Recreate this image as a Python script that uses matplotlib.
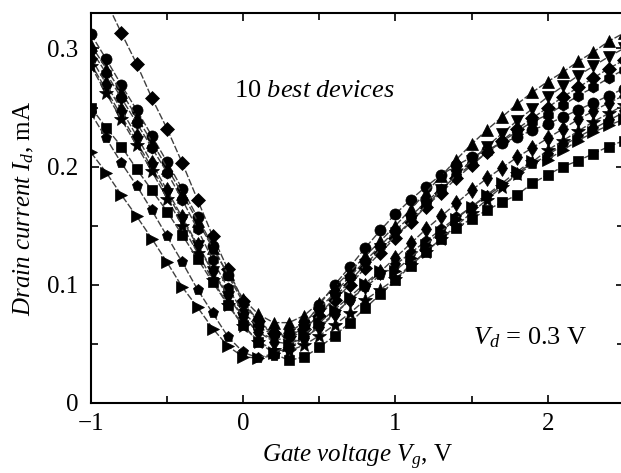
import matplotlib
matplotlib.use("Agg")
import matplotlib.pyplot as plt
from matplotlib.ticker import MultipleLocator

plt.rcParams['font.family'] = ['Liberation Serif', 'DejaVu Serif']
plt.rcParams['mathtext.fontset'] = 'custom'
plt.rcParams['mathtext.rm'] = 'Liberation Serif'
plt.rcParams['mathtext.it'] = 'Liberation Serif:italic'

# gate voltage grid, V
vg = [-1.0, -0.9, -0.8, -0.7, -0.6, -0.5, -0.4, -0.3, -0.2, -0.1,
      0.0, 0.1, 0.2, 0.3, 0.4, 0.5, 0.6, 0.7, 0.8, 0.9,
      1.0, 1.1, 1.2, 1.3, 1.4, 1.5, 1.6, 1.7, 1.8, 1.9,
      2.0, 2.1, 2.2, 2.3, 2.4, 2.5]

# drain current of the 10 devices, mA
dev_D = [0.366, 0.340, 0.313, 0.287, 0.258, 0.232, 0.203, 0.172, 0.141, 0.113,
         0.086, 0.069, 0.059, 0.057, 0.063, 0.074, 0.087, 0.100, 0.114, 0.127,
         0.140, 0.153, 0.166, 0.178, 0.190, 0.201, 0.212, 0.222, 0.232, 0.241,
         0.250, 0.259, 0.267, 0.275, 0.283, 0.290]
dev_o = [0.312, 0.291, 0.269, 0.248, 0.226, 0.204, 0.181, 0.157, 0.133, 0.108,
         0.085, 0.068, 0.058, 0.056, 0.066, 0.083, 0.100, 0.115, 0.131, 0.146,
         0.160, 0.172, 0.183, 0.193, 0.201, 0.208, 0.214, 0.220, 0.225, 0.231,
         0.236, 0.242, 0.248, 0.254, 0.260, 0.266]
dev_up = [0.303, 0.283, 0.263, 0.242, 0.221, 0.199, 0.177, 0.154, 0.131, 0.109,
          0.088, 0.075, 0.068, 0.068, 0.074, 0.085, 0.098, 0.111, 0.124, 0.137,
          0.150, 0.164, 0.178, 0.192, 0.206, 0.219, 0.231, 0.242, 0.253, 0.263,
          0.272, 0.280, 0.289, 0.297, 0.306, 0.313]
dev_h = [0.299, 0.279, 0.258, 0.237, 0.216, 0.195, 0.172, 0.147, 0.121, 0.097,
         0.077, 0.064, 0.058, 0.060, 0.068, 0.080, 0.093, 0.107, 0.120, 0.133,
         0.146, 0.158, 0.170, 0.181, 0.192, 0.202, 0.212, 0.221, 0.230, 0.238,
         0.244, 0.252, 0.260, 0.267, 0.275, 0.282]
dev_dn = [0.287, 0.265, 0.243, 0.221, 0.199, 0.177, 0.155, 0.133, 0.111, 0.090,
          0.072, 0.060, 0.054, 0.054, 0.062, 0.075, 0.089, 0.103, 0.117, 0.130,
          0.141, 0.154, 0.167, 0.180, 0.193, 0.205, 0.217, 0.228, 0.239, 0.249,
          0.259, 0.268, 0.277, 0.285, 0.293, 0.300]
dev_d = [0.292, 0.270, 0.248, 0.226, 0.203, 0.180, 0.157, 0.134, 0.112, 0.091,
         0.073, 0.060, 0.052, 0.050, 0.055, 0.064, 0.075, 0.087, 0.099, 0.111,
         0.123, 0.135, 0.147, 0.158, 0.169, 0.180, 0.190, 0.199, 0.208, 0.216,
         0.224, 0.232, 0.240, 0.247, 0.254, 0.260]
dev_star = [0.285, 0.262, 0.240, 0.218, 0.196, 0.173, 0.150, 0.127, 0.104, 0.083,
            0.065, 0.052, 0.045, 0.044, 0.049, 0.057, 0.066, 0.076, 0.087, 0.096,
            0.105, 0.117, 0.128, 0.139, 0.150, 0.161, 0.172, 0.183, 0.194, 0.204,
            0.214, 0.222, 0.230, 0.238, 0.245, 0.252]
dev_s = [0.250, 0.233, 0.217, 0.198, 0.180, 0.162, 0.142, 0.122, 0.102, 0.083,
         0.066, 0.052, 0.042, 0.036, 0.039, 0.047, 0.057, 0.068, 0.080, 0.092,
         0.104, 0.116, 0.128, 0.139, 0.148, 0.156, 0.163, 0.170, 0.176, 0.186,
         0.193, 0.200, 0.205, 0.211, 0.217, 0.222]
dev_p = [0.245, 0.224, 0.203, 0.184, 0.163, 0.141, 0.119, 0.096, 0.076, 0.056,
         0.043, 0.038, 0.040, 0.046, 0.055, 0.065, 0.076, 0.087, 0.098, 0.108,
         0.117, 0.127, 0.137, 0.147, 0.157, 0.166, 0.175, 0.184, 0.193, 0.202,
         0.210, 0.218, 0.225, 0.232, 0.239, 0.246]
dev_r = [0.212, 0.195, 0.176, 0.158, 0.139, 0.119, 0.098, 0.081, 0.063, 0.048,
         0.039, 0.038, 0.042, 0.049, 0.058, 0.068, 0.079, 0.090, 0.101, 0.112,
         0.112, 0.123, 0.134, 0.145, 0.156, 0.166, 0.176, 0.186, 0.196, 0.205,
         0.206, 0.214, 0.222, 0.229, 0.235, 0.240]

devices = [dev_D, dev_o, dev_up, dev_h, dev_dn, dev_d, dev_star, dev_s, dev_p, dev_r]
markers = ['D', 'o', '^', 'h', 'v', 'd', '*', 's', 'p', '>']
sizes = [7, 8, 8, 8, 8, 8.5, 10, 7, 8, 8]

fig = plt.figure(figsize=(6.21, 4.73), dpi=100)
ax = fig.add_axes([0.1465, 0.148, 0.858, 0.8245])

for cur, m, ms in zip(devices, markers, sizes):
    ax.plot(vg, cur, ls=(0, (5, 1.5)), color='0.25', lw=1.0,
            marker=m, ms=ms, mfc='black', mec='black', mew=0.5)

ax.set_xlim(-1, 2.5)
ax.set_ylim(0, 0.33)
ax.xaxis.set_minor_locator(MultipleLocator(0.5))
ax.yaxis.set_minor_locator(MultipleLocator(0.05))
ax.set_yticks([0, 0.1, 0.2, 0.3], ['0', '0.1', '0.2', '0.3'])
ax.set_xticks([-1, 0, 1, 2], ['\u22121', '0', '1', '2'])
ax.tick_params(which='both', direction='in', top=True, right=True,
               labelsize=18, width=1.2)
ax.tick_params(axis='x', which='both', pad=7)
ax.tick_params(axis='y', which='both', pad=9)
ax.tick_params(which='major', length=6)
ax.tick_params(which='minor', length=5)
for sp in ax.spines.values():
    sp.set_linewidth(1.5)

ax.set_xlabel(r'$Gate\ voltage\ V_g$, V', fontsize=18, labelpad=6)
ax.set_ylabel(r'$Drain\ current\ I_d$, mA', fontsize=18, labelpad=8)

ax.text(-0.06, 0.264, r'10 $best\ devices$', fontsize=19, va='center')
ax.text(1.51, 0.055, r'$V_d$ = 0.3 V', fontsize=19, va='center')

fig.savefig('out.png', dpi=100)
